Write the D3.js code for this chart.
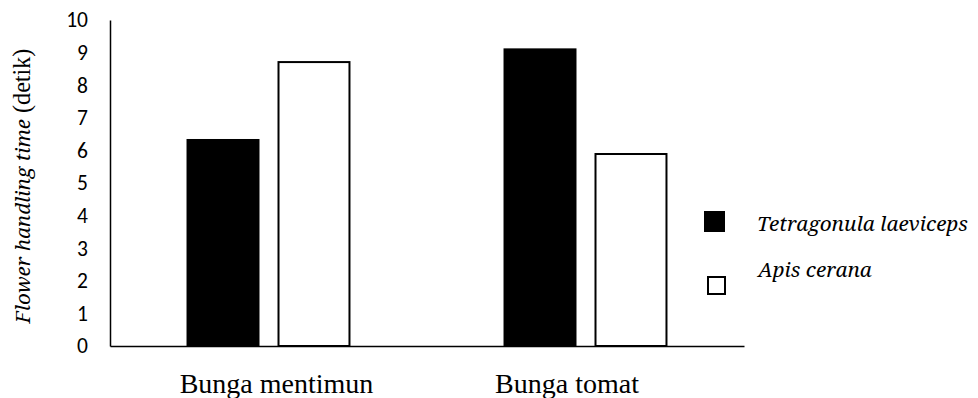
<!DOCTYPE html>
<html>
<head>
<meta charset="utf-8">
<script src="https://cdn.jsdelivr.net/npm/d3@7"></script>
<style>
  html, body { margin: 0; padding: 0; background: #fff; }
  svg { display: block; }
</style>
</head>
<body>
<svg id="chart" width="978" height="398"></svg>
<script>
const categories = ["Bunga mentimun", "Bunga tomat"];
const seriesNames = ["Tetragonula laeviceps", "Apis cerana"];
const tetragonulaValues = [6.35, 9.13];
const apisValues = [8.74, 5.92];
const yTicks = [0, 1, 2, 3, 4, 5, 6, 7, 8, 9, 10];

const SERIF = "'Liberation Serif', serif";
const SERIF_ITALIC = "'Noto Serif', 'DejaVu Serif', serif";

const svg = d3.select("#chart");
const margin = { left: 110, right: 234, top: 20, bottom: 52 };
const W = 978, H = 398;

const x = d3.scaleBand().domain(categories).range([margin.left, W - margin.right]);
const inner = d3.scaleBand().domain(seriesNames).range([0, x.bandwidth()]).paddingInner(0.198).paddingOuter(0.841);
const y = d3.scaleLinear().domain([0, 10]).range([H - margin.bottom, margin.top]);

// Bars
const rows = categories.map((c, i) => ({ cat: c, vals: [tetragonulaValues[i], apisValues[i]] }));
const g = svg.append("g");
rows.forEach(r => {
  r.vals.forEach((v, j) => {
    const isBlack = j === 0;
    const sw = isBlack ? 0 : 2;
    g.append("rect")
      .attr("x", x(r.cat) + inner(seriesNames[j]) + sw / 2)
      .attr("y", y(v) + sw / 2)
      .attr("width", inner.bandwidth() - sw)
      .attr("height", y(0) - y(v) - sw / 2)
      .attr("fill", isBlack ? "#000" : "#fff")
      .attr("stroke", isBlack ? "none" : "#000")
      .attr("stroke-width", sw);
  });
});

// Axes
const yAxis = d3.axisLeft(y).tickValues(yTicks).tickSize(0).tickPadding(22).tickFormat(d3.format("d"));
const yg = svg.append("g").attr("transform", `translate(${margin.left},0)`).call(yAxis);
yg.select(".domain").attr("stroke", "#000").attr("stroke-width", 1.5);
yg.selectAll("text").attr("font-family", "Carlito, Lato, sans-serif").attr("font-size", 21.5).attr("fill", "#000");

const xAxis = d3.axisBottom(x).tickSize(0).tickPadding(0);
const xg = svg.append("g").attr("transform", `translate(0,${y(0)})`).call(xAxis);
xg.select(".domain").attr("stroke", "#000").attr("stroke-width", 1.5);
const labelNudge = [8, -18.5];
xg.selectAll(".tick text")
  .attr("font-family", SERIF)
  .attr("font-size", 28)
  .attr("fill", "#000")
  .attr("dy", 0)
  .attr("y", 47)
  .attr("dx", (d, i) => labelNudge[i]);

// Y-axis title (fit to the length seen in the reference)
const title = svg.append("text")
  .attr("transform", `translate(30,186) rotate(-90)`)
  .attr("text-anchor", "middle")
  .attr("fill", "#000");
const t1 = title.append("tspan").attr("font-family", SERIF_ITALIC).attr("font-style", "italic").attr("font-size", 20).text("Flower handling time");
const t2 = title.append("tspan").attr("font-family", SERIF).attr("font-size", 23.5).text(" (detik)");
const tl = title.node().getComputedTextLength();
const k = 275 / tl;
t1.attr("font-size", 20 * k);
t2.attr("font-size", 23.5 * k);

// Legend
const legend = svg.append("g");
legend.append("rect").attr("x", 704).attr("y", 211).attr("width", 21).attr("height", 21).attr("fill", "#000");
legend.append("rect").attr("x", 708).attr("y", 277).attr("width", 17).attr("height", 17).attr("fill", "#fff").attr("stroke", "#000").attr("stroke-width", 2);
const lt = legend.selectAll("text.lg").data(seriesNames).enter().append("text")
  .attr("class", "lg")
  .attr("x", (d, i) => i === 0 ? 757 : 758)
  .attr("y", (d, i) => i === 0 ? 231 : 277)
  .attr("font-family", SERIF_ITALIC)
  .attr("font-style", "italic")
  .attr("font-size", 20)
  .attr("fill", "#000")
  .text(d => d);
const lw = lt.nodes()[0].getComputedTextLength();
lt.attr("font-size", 20 * 211 / lw);
</script>
</body>
</html>
